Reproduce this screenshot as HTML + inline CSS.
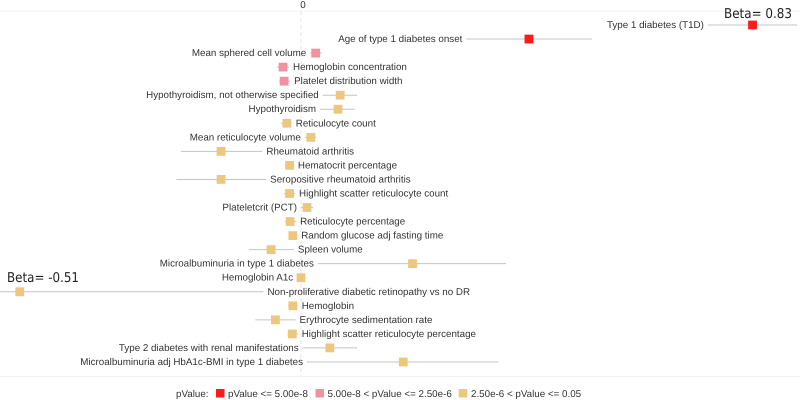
<!DOCTYPE html>
<html>
<head>
<meta charset="utf-8">
<style>
html,body{margin:0;padding:0;background:#fff;width:800px;height:400px;overflow:hidden}
svg{display:block;font-family:"Liberation Sans",Arial,sans-serif;text-rendering:geometricPrecision}
</style>
</head>
<body>
<svg id="chart" width="800" height="400" viewBox="0 0 800 400">
  <line x1="0" y1="11" x2="800" y2="11" stroke="#f4f4f4"/>
  <line x1="0" y1="376.5" x2="800" y2="376.5" stroke="#f2f2f2"/>
  <g id="zero-axis"></g>
  <g id="marks"></g>
  <text x="724" y="18" font-size="13.5" fill="#222" font-family="'DejaVu Sans',sans-serif" textLength="68" lengthAdjust="spacingAndGlyphs">Beta= 0.83</text>
  <text x="7" y="282" font-size="13.5" fill="#222" font-family="'DejaVu Sans',sans-serif" textLength="72" lengthAdjust="spacingAndGlyphs">Beta= -0.51</text>
  <g font-size="9.8" fill="#333">
    <text x="176" y="397">pValue:</text>
    <g>
      <rect x="216" y="389" width="8.5" height="8.5" fill="#ff1a1a"/>
      <text x="228" y="397">pValue &lt;= 5.00e-8</text>
    </g>
    <g>
      <rect x="315.5" y="389" width="8.5" height="8.5" fill="#f0929f"/>
      <text x="327.5" y="397">5.00e-8 &lt; pValue &lt;= 2.50e-6</text>
    </g>
    <g>
      <rect x="458.7" y="389" width="8.5" height="8.5" fill="#eec77f"/>
      <text x="471" y="397">2.50e-6 &lt; pValue &lt;= 0.05</text>
    </g>
  </g>
</svg>
<script>
const traits = ["Type 1 diabetes (T1D)","Age of type 1 diabetes onset","Mean sphered cell volume","Hemoglobin concentration","Platelet distribution width","Hypothyroidism, not otherwise specified","Hypothyroidism","Reticulocyte count","Mean reticulocyte volume","Rheumatoid arthritis","Hematocrit percentage","Seropositive rheumatoid arthritis","Highlight scatter reticulocyte count","Plateletcrit (PCT)","Reticulocyte percentage","Random glucose adj fasting time","Spleen volume","Microalbuminuria in type 1 diabetes","Hemoglobin A1c","Non-proliferative diabetic retinopathy vs no DR","Hemoglobin","Erythrocyte sedimentation rate","Highlight scatter reticulocyte percentage","Type 2 diabetes with renal manifestations","Microalbuminuria adj HbA1c-BMI in type 1 diabetes"];
const betas = [0.830,0.419,0.027,-0.033,-0.031,0.072,0.068,-0.026,0.018,-0.147,-0.021,-0.147,-0.021,0.011,-0.020,-0.015,-0.055,0.205,0.000,-0.517,-0.015,-0.047,-0.016,0.053,0.188];
const lowerCI = [0.748,0.304,0.017,-0.044,-0.040,0.040,0.035,-0.037,0.007,-0.221,-0.029,-0.229,-0.031,0.000,-0.029,-0.022,-0.096,0.031,-0.007,-0.560,-0.024,-0.084,-0.025,0.003,0.011];
const upperCI = [0.912,0.535,0.038,-0.022,-0.020,0.103,0.099,-0.017,0.028,-0.071,-0.013,-0.064,-0.011,0.022,-0.009,-0.007,-0.013,0.377,0.007,-0.069,-0.006,-0.010,-0.006,0.103,0.363];
const pGroups = ["high","high","medium","medium","medium","low","low","low","low","low","low","low","low","low","low","low","low","low","low","low","low","low","low","low","low"];
const labelSides = ["left","left","left","right","right","left","left","right","left","right","right","right","right","left","right","right","right","left","left","right","right","right","right","left","left"];
const zeroTick = ["0"];

const groupColor = {high:"#ff1a1a",medium:"#f0929f",low:"#eec77f"};
const NS = "http://www.w3.org/2000/svg";
function xScale(b){ return 301 + b * 544; }
function yScale(i){ return 25 + i * 14.04; }

const axisGroup = document.getElementById("zero-axis");
const zeroLine = document.createElementNS(NS,"line");
zeroLine.setAttribute("x1",xScale(0));
zeroLine.setAttribute("x2",xScale(0));
zeroLine.setAttribute("y1",11);
zeroLine.setAttribute("y2",376);
zeroLine.setAttribute("stroke","#e4e4e4");
zeroLine.setAttribute("stroke-dasharray","4 3");


axisGroup.appendChild(zeroLine);
const tick = document.createElementNS(NS,"text");
tick.setAttribute("x",xScale(0)+2);
tick.setAttribute("y",8);
tick.setAttribute("text-anchor","middle");
tick.setAttribute("font-size","9.8");
tick.setAttribute("fill","#333");
tick.textContent = zeroTick[0];


axisGroup.appendChild(tick);

const marks = document.getElementById("marks");
traits.forEach(function(name,i){
  const y = yScale(i);
  const lo = xScale(lowerCI[i]);
  const hi = xScale(upperCI[i]);
  const cx = xScale(betas[i]);
  const g = document.createElementNS(NS,"g");
  
  

  const line = document.createElementNS(NS,"line");
  line.setAttribute("x1",lo);
  line.setAttribute("x2",hi);
  line.setAttribute("y1",y);
  line.setAttribute("y2",y);
  line.setAttribute("stroke","#c4c4c4");
  line.setAttribute("stroke-width","1");
  
  
  g.appendChild(line);

  const rect = document.createElementNS(NS,"rect");
  rect.setAttribute("x",cx-4.4);
  rect.setAttribute("y",y-4.4);
  rect.setAttribute("width",8.8);
  rect.setAttribute("height",8.8);
  rect.setAttribute("fill",groupColor[pGroups[i]]);
  
  
  g.appendChild(rect);

  const label = document.createElementNS(NS,"text");
  const left = labelSides[i] === "left";
  label.setAttribute("x",left ? lo-4 : hi+4);
  label.setAttribute("y",y+3);
  label.setAttribute("text-anchor",left ? "end" : "start");
  label.setAttribute("font-size","9.8");
  label.setAttribute("fill","#333");
  label.textContent = name;
  
  
  g.appendChild(label);

  marks.appendChild(g);
});
</script>
</body>
</html>
